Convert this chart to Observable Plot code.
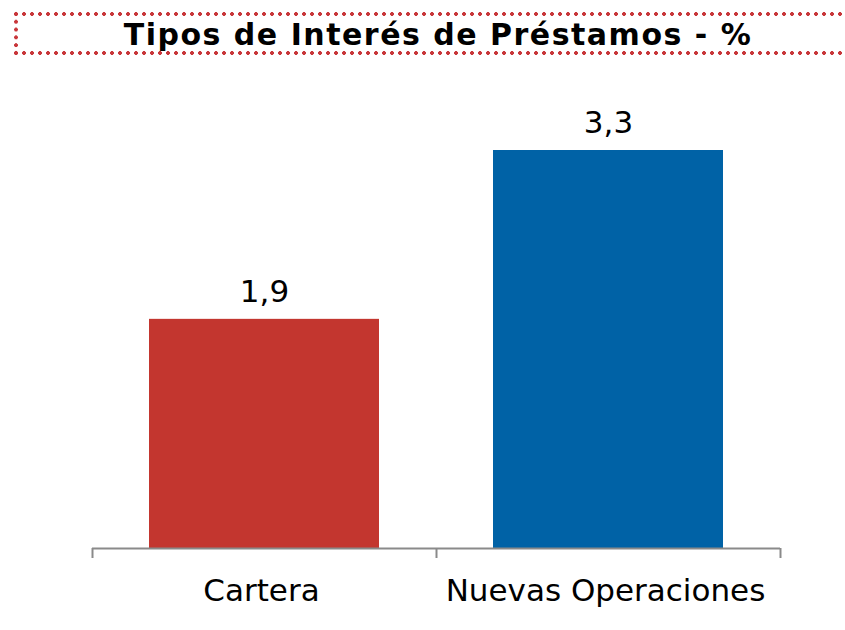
<!DOCTYPE html>
<html>
<head>
<meta charset="utf-8">
<script src="https://cdn.jsdelivr.net/npm/d3@7"></script>
<script src="https://cdn.jsdelivr.net/npm/@observablehq/plot@0.6"></script>
<style>
  html, body { margin: 0; padding: 0; background: #fff; overflow: hidden; }
  #title-wrap { position: relative; width: 845px; height: 70px; }
  .edge-h { position: absolute; left: 12px; width: 840px; height: 8px;
    background-image: radial-gradient(circle at 4px 4px, #c8363a 1.6px, rgba(200,54,58,0) 2.2px);
    background-size: 8px 8px; background-repeat: repeat-x; }
  .edge-v { position: absolute; left: 12px; top: 10px; width: 8px; height: 47px;
    background-image: radial-gradient(circle at 4px 4px, #c8363a 1.6px, rgba(200,54,58,0) 2.2px);
    background-size: 8px 7.8px; background-repeat: repeat-y; }
  #title { position: absolute; left: 0; width: 876px; top: 17px; text-align: center;
    font-family: "DejaVu Sans", Verdana, sans-serif; font-weight: bold; font-size: 30px;
    letter-spacing: 1.5px; color: #000; }
</style>
</head>
<body>
<div id="title-wrap">
  <div class="edge-h" style="top:10px"></div>
  <div class="edge-h" style="top:49px"></div>
  <div class="edge-v"></div>
  <div id="title">Tipos de Interés de Préstamos - %</div>
</div>
<div id="chart"></div>
<script>
const categories = ["Cartera", "Nuevas Operaciones"];
const values = [1.9, 3.3];
const valueLabels = ["1,9", "3,3"];
const colors = ["#c3362f", "#0062a6"];

const data = categories.map((c, i) => ({cat: c, value: values[i], label: valueLabels[i], color: colors[i]}));
const font = "DejaVu Sans, Verdana, sans-serif";

const chart = Plot.plot({
  width: 845,
  height: 560,
  marginLeft: 92,
  marginRight: 65,
  marginTop: 80,
  marginBottom: 82,
  style: {fontFamily: font, background: "#fff"},
  x: {domain: categories, paddingInner: 0.33, paddingOuter: 0.165, axis: null},
  y: {domain: [0, 3.3], axis: null},
  marks: [
    Plot.barY(data, {x: "cat", y: "value", fill: "color"}),
    Plot.text(data, {x: "cat", y: "value", text: "label", dy: -27, fontSize: 31, fill: "#000"}),
    Plot.ruleY([0], {stroke: "#8a8a8a", strokeWidth: 2}),
    Plot.ruleX(categories, {x: d => d, y1: 0, y2: 0, insetBottom: -10, dx: -172, stroke: "#8a8a8a", strokeWidth: 2}),
    Plot.ruleX(categories.slice(-1), {x: d => d, y1: 0, y2: 0, insetBottom: -10, dx: 172, stroke: "#8a8a8a", strokeWidth: 2}),
    Plot.text(data, {x: "cat", y: 0, text: "cat", dy: 43, dx: -3, fontSize: 31, fill: "#000"})
  ]
});
document.getElementById("chart").appendChild(chart);
</script>
</body>
</html>
